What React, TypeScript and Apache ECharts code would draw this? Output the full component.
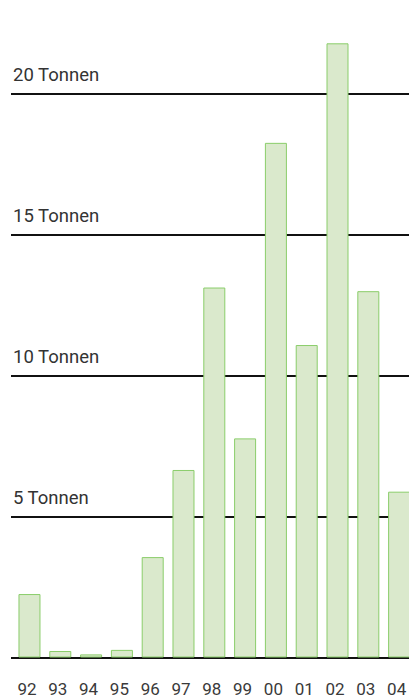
import React, { useEffect, useRef } from "react";
import * as echarts from "echarts";

// Jahre (zweistellig) und Mengen in Tonnen
const years = ["92", "93", "94", "95", "96", "97", "98", "99", "00", "01", "02", "03", "04"];
const tonnes = [2.25, 0.23, 0.11, 0.27, 3.56, 6.65, 13.12, 7.77, 18.25, 11.08, 21.78, 12.99, 5.88];
const yTicks = [0, 5, 10, 15, 20, 25];
const labelledTicks = [5, 10, 15, 20];

export default function App() {
  const ref = useRef<HTMLDivElement>(null);

  useEffect(() => {
    if (!ref.current) return;
    const chart = echarts.init(ref.current, undefined, { renderer: "svg" });
    const positions = years.map((_, i) => i);

    chart.setOption({
      animation: false,
      backgroundColor: "#ffffff",
      grid: {
        left: 11,
        right: 2.4,
        top: 12.5,
        bottom: 40.5,
        containLabel: false,
        outerBoundsMode: "none",
      },
      xAxis: {
        type: "value",
        min: -0.6,
        max: 12.6,
        axisLine: { show: false },
        axisTick: { show: false },
        splitLine: { show: false },
        axisLabel: {
          customValues: positions,
          formatter: (v: number) => years[Math.round(v)] ?? "",
          margin: 23,
          fontFamily: "Roboto",
          fontSize: 17,
          color: "#3a3a3a",
          padding: [0, 5, 0, 0],
        },
      },
      yAxis: {
        type: "value",
        min: yTicks[0],
        max: yTicks[yTicks.length - 1],
        interval: 5,
        axisLine: { show: false },
        axisTick: { show: false },
        splitLine: { show: true, lineStyle: { color: "#111111", width: 2 } },
        axisLabel: {
          inside: true,
          margin: 2,
          formatter: (v: number) => (labelledTicks.includes(v) ? `${v} Tonnen` : ""),
          fontFamily: "Roboto",
          fontSize: 18.5,
          lineHeight: 19,
          color: "#333333",
          verticalAlign: "bottom",
          padding: [0, 0, 9, 0],
        },
      },
      series: [
        {
          type: "bar",
          data: tonnes.map((v, i) => [i, v]),
          barWidth: 22,
          itemStyle: {
            color: "#dae9cc",
            borderColor: "#8acd6a",
            borderWidth: 1,
          },
          z: 3,
        },
      ],
    });

    return () => chart.dispose();
  }, []);

  // The chart canvas reaches past the window's top and right edges,
  // so the top gridline and part of the last bar fall outside the view.
  return (
    <div style={{ position: "fixed", left: 0, top: 0, width: 409, height: 698, overflow: "hidden" }}>
      <div
        ref={ref}
        style={{ position: "absolute", left: 0, top: -60, width: 420, height: 758 }}
      />
    </div>
  );
}
